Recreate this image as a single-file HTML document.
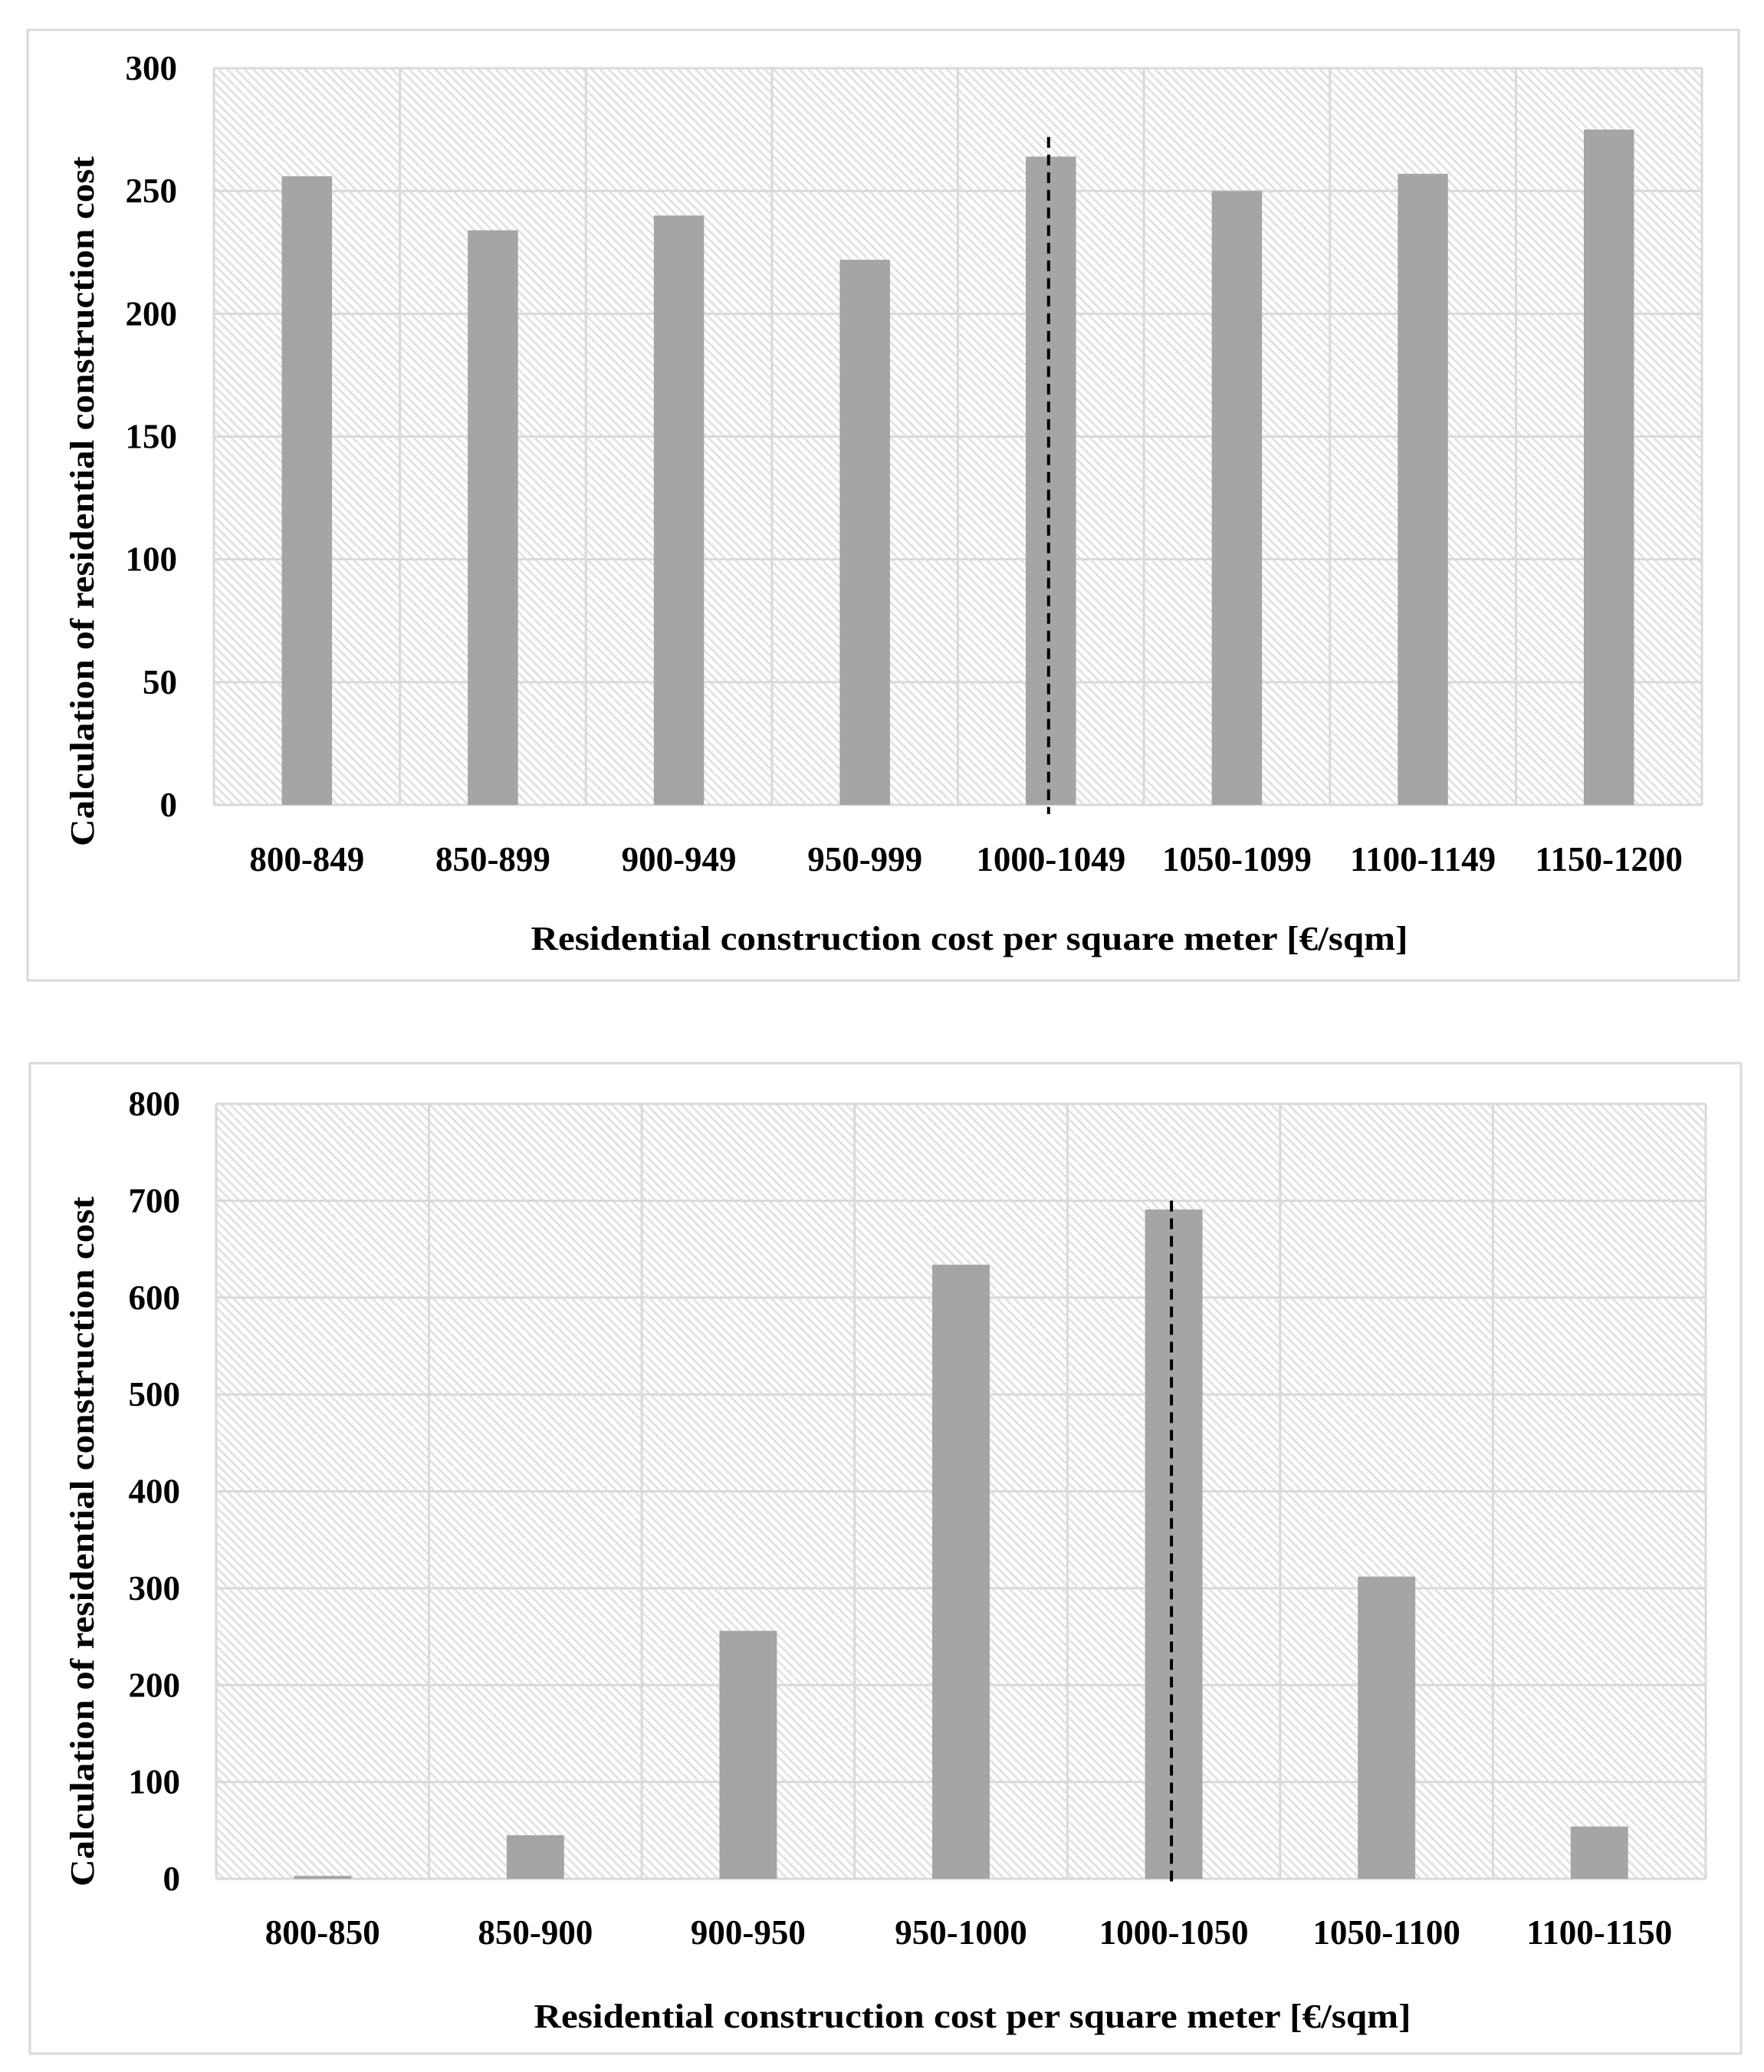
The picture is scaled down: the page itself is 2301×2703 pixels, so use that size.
<!DOCTYPE html>
<html><head><meta charset="utf-8"><style>
html,body{margin:0;padding:0;background:#fff}
svg{display:block}
text{font-family:"Liberation Serif",serif;font-weight:bold;fill:#000}
</style></head><body>
<svg id="svg" width="2301" height="2703" viewBox="0 0 2301 2703" xmlns="http://www.w3.org/2000/svg">
<defs>
<pattern id="hatch" patternUnits="userSpaceOnUse" width="8" height="8" patternTransform="rotate(-45)">
<rect width="8" height="8" fill="#ffffff"/>
<rect x="0" y="0" width="3" height="8" fill="#e3e3e3"/>
</pattern>
</defs>
</svg>
<script>
const cats1 = ["800-849","850-899","900-949","950-999","1000-1049","1050-1099","1100-1149","1150-1200"];
const vals1 = [256, 234, 240, 222, 264, 250, 257, 275];
const ticks1 = [0,50,100,150,200,250,300];
const marker1 = 4.5; // category position of dashed line
const markerTop1 = 272;

const cats2 = ["800-850","850-900","900-950","950-1000","1000-1050","1050-1100","1100-1150"];
const vals2 = [3, 45, 256, 634, 691, 312, 54];
const ticks2 = [0,100,200,300,400,500,600,700,800];
const marker2 = 4.5;
const markerTop2 = 700;

const NS="http://www.w3.org/2000/svg";
const svg=document.getElementById('svg');
function mk(tag,attrs,parent){const e=document.createElementNS(NS,tag);for(const k in attrs)e.setAttribute(k,attrs[k]);(parent||svg).appendChild(e);return e;}

function chart(cfg){
  const g=mk('g',{});
  
  
  const box=mk('rect',{x:cfg.box[0],y:cfg.box[1],width:cfg.box[2],height:cfg.box[3],fill:'#fff',stroke:'#d9d9d9','stroke-width':3},g);
  
  
  const L=cfg.plot[0],T=cfg.plot[1],R=cfg.plot[2],B=cfg.plot[3];
  const max=cfg.ticks[cfg.ticks.length-1];
  const y=v=>B-(v/max)*(B-T);
  const n=cfg.cats.length, cw=(R-L)/n;
  const x=i=>L+i*cw;
  const bg=mk('rect',{x:L,y:T,width:R-L,height:B-T,fill:'url(#hatch)'},g);
  
  
  cfg.ticks.forEach(t=>{
    const ln=mk('line',{x1:L,x2:R,y1:y(t),y2:y(t),stroke:'#d9d9d9','stroke-width':3},g);
    
    
    const tx=mk('text',{x:cfg.tickRight,y:y(t)+15,'text-anchor':'end','font-size':45},g);
    tx.textContent=t;
    
    
  });
  for(let i=0;i<=n;i++){
    const ln=mk('line',{x1:x(i),x2:x(i),y1:T,y2:B,stroke:'#d9d9d9','stroke-width':3},g);
    
    
  }
  const bw=cw*0.27;
  cfg.vals.forEach((v,i)=>{
    const cx=x(i)+cw/2;
    const r=mk('rect',{x:cx-bw/2,y:y(v),width:bw,height:B-y(v),fill:'#a5a5a5'},g);
    
    
    const tx=mk('text',{x:cx,y:cfg.labelY,'text-anchor':'middle','font-size':45},g);
    tx.textContent=cfg.cats[i];
    
    
  });
  const mx=x(cfg.marker)-3;
  const d=mk('line',{x1:mx,x2:mx,y1:y(cfg.markerTop),y2:B+12,stroke:'#000','stroke-width':4,'stroke-dasharray':'14 9'},g);
  
  
  const xt=mk('text',{x:(L+R)/2+15,y:cfg.xTitleY,'text-anchor':'middle','font-size':44,textLength:1144,lengthAdjust:'spacingAndGlyphs'},g);
  xt.textContent='Residential construction cost per square meter [€/sqm]';
  
  
  const yt=mk('text',{x:0,y:0,'text-anchor':'middle','font-size':44,textLength:900,lengthAdjust:'spacingAndGlyphs',transform:`translate(${cfg.yTitleX},${cfg.yTitleY}) rotate(-90)`},g);
  yt.textContent='Calculation of residential construction cost';
  
  
}

chart({name:'chart-1',box:[36,39,2232,1240],plot:[279,89,2220,1050],cats:cats1,vals:vals1,ticks:ticks1,
  marker:marker1,markerTop:markerTop1,tickRight:231,labelY:1136,xTitleY:1239,yTitleX:122,yTitleY:654});
chart({name:'chart-2',box:[39,1387,2232,1292],plot:[282,1440,2225,2451],cats:cats2,vals:vals2,ticks:ticks2,
  marker:marker2,markerTop:markerTop2,tickRight:235,labelY:2536,xTitleY:2645,yTitleX:122,yTitleY:2011});
</script>
</body></html>
